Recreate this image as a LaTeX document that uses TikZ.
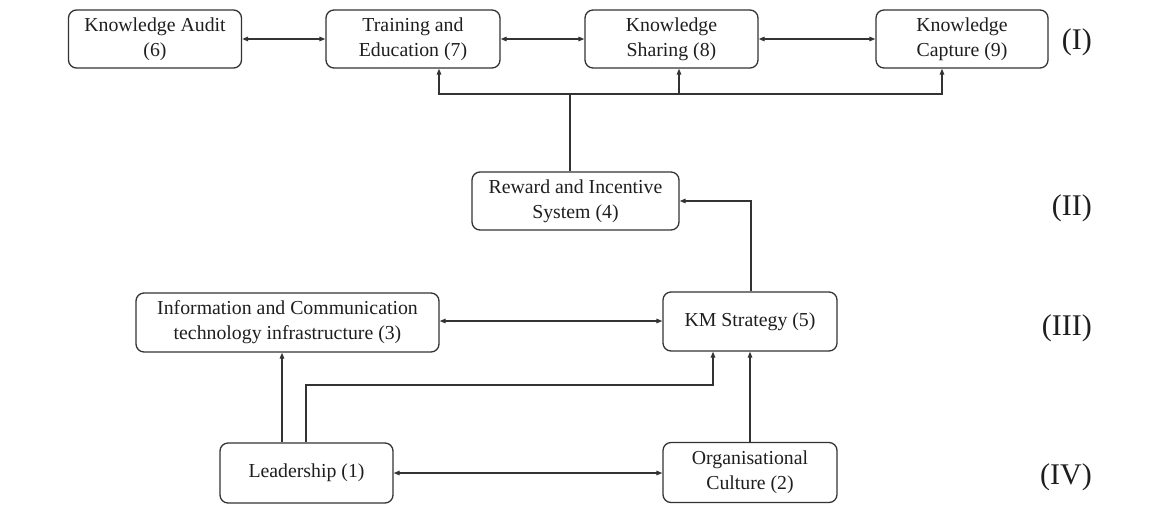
\documentclass[tikz,border=0pt]{standalone}
\usepackage{fontspec}
\setmainfont{Liberation Serif}
\usetikzlibrary{arrows.meta}
\definecolor{ln}{HTML}{333333}
\definecolor{tx}{HTML}{1E1E1E}
\tikzset{
  box/.style={draw=ln, line width=1.3pt, rounded corners=8pt, align=center, inner sep=0pt,
    minimum height=58pt, text=tx, font=\fontsize{19.8}{25}\selectfont},
  arr/.style={draw=ln, line width=1.3pt, -{Triangle[length=6pt,width=4.5pt]}},
  darr/.style={draw=ln, line width=1.3pt, {Triangle[length=6pt,width=4.5pt]}-{Triangle[length=6pt,width=4.5pt]}},
  lvl/.style={anchor=east, inner sep=0pt, text=tx, font=\fontsize{30}{34}\selectfont}
}
\begin{document}
\begin{tikzpicture}[x=1pt,y=-1pt]
\useasboundingbox (0,0) rectangle (1166,531);
% row I
\node[box, minimum width=173pt] (audit) at (155,39) {Knowledge Audit\\(6)};
\node[box, minimum width=174pt] (train) at (413,39) {Training and\\Education (7)};
\node[box, minimum width=173pt] (share) at (671.5,39) {Knowledge\\Sharing (8)};
\node[box, minimum width=172pt] (capt) at (962,39) {Knowledge\\Capture (9)};
% row II
\node[box, minimum width=207pt] (reward) at (575.5,201) {Reward and Incentive\\System (4)};
% row III
\node[box, minimum width=303pt, minimum height=59pt] (ict) at (287.5,322.5) {Information and Communication\\technology infrastructure (3)};
\node[box, minimum width=174pt, minimum height=59pt] (km) at (750,321.5) {KM Strategy (5)};
% row IV
\node[box, minimum width=173pt, minimum height=60pt] (lead) at (306.5,473) {Leadership (1)};
\node[box, minimum width=174pt, minimum height=60pt] (org) at (750,472.5) {Organisational\\Culture (2)};
% level labels
\node[lvl] (l1) at (1092,42) {(I)};
\node[lvl] (l2) at (1092,208) {(II)};
\node[lvl] (l3) at (1092,328) {(III)};
\node[lvl] (l4) at (1092,477) {(IV)};
% row I connectors
\draw[darr] (audit.east) -- (train.west);
\draw[darr] (train.east) -- (share.west);
\draw[darr] (share.east) -- (capt.west);
% bus from reward
\coordinate (rtop) at (570,94);
\coordinate (bt) at (439,94);
\coordinate (bs) at (679,94);
\coordinate (bc) at (942,94);
\draw[draw=ln, line width=1.3pt] (rtop |- reward.north) -- (rtop);
\draw[arr] (rtop) -- (bt) -- (bt |- train.south);
\draw[arr] (rtop) -- (bc) -- (bc |- capt.south);
\draw[arr] (bs) -- (bs |- share.south);
% KM to reward
\coordinate (kr) at (751,201);
\draw[arr] (kr |- km.north) -- (kr) -- (reward.east |- kr);
% ICT <-> KM
\draw[darr] (ict.east |- 0,321) -- (km.west |- 0,321);
% leadership to ICT
\coordinate (li) at (282,400);
\draw[arr] (li |- lead.north) -- (li |- ict.south);
% leadership to KM
\coordinate (lk1) at (306,385);
\coordinate (lk2) at (713,385);
\draw[arr] (lk1 |- lead.north) -- (lk1) -- (lk2) -- (lk2 |- km.south);
% org to KM
\draw[arr] (org.north) -- (km.south);
% leadership <-> org
\draw[darr] (lead.east) -- (org.west |- lead.east);
\end{tikzpicture}
\end{document}
